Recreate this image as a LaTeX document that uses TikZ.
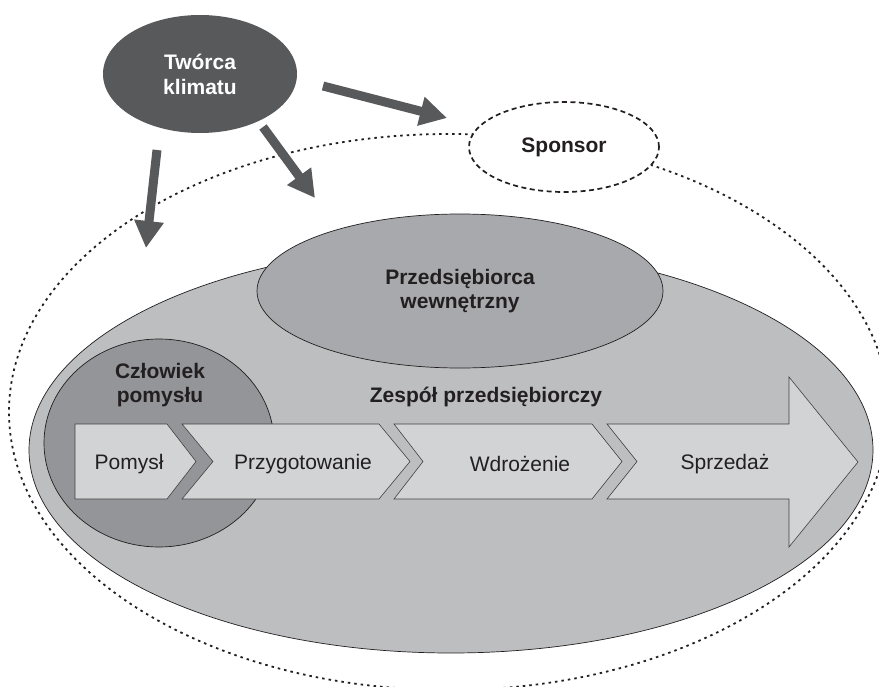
\documentclass[tikz,border=0pt]{standalone}
\usepackage{fontspec}
\setmainfont{Liberation Sans}
\usetikzlibrary{shapes.geometric,arrows.meta}
\definecolor{darkg}{HTML}{58595B}
\definecolor{midg}{HTML}{939598}
\definecolor{przg}{HTML}{A7A9AC}
\definecolor{teamg}{HTML}{BCBEC0}
\definecolor{lightg}{HTML}{D1D3D4}
\definecolor{txt}{HTML}{231F20}
\begin{document}
\begin{tikzpicture}[x=1pt,y=-1pt,
  ell/.style={ellipse, inner sep=0pt, draw=txt, line width=0.7pt},
  boldtxt/.style={font=\fontsize{21}{24}\selectfont\bfseries, text=txt, align=center, inner sep=0pt},
  regtxt/.style={font=\fontsize{21}{24}\selectfont, text=txt, inner sep=0pt},
  phase/.style={fill=lightg, draw=txt!85, line width=0.6pt, line join=miter},
  thickarrow/.style={draw=darkg, line width=9pt, -{Triangle[length=27pt,width=28pt]}},
  dotline/.style={draw=txt, line width=1.8pt, dash pattern=on 2.5pt off 4pt},
  dashline/.style={draw=txt, line width=1.7pt, dash pattern=on 5pt off 3.5pt},
]
\useasboundingbox (0,0) rectangle (879,687);
\fill[white] (0,0) rectangle (879,687);

% outer dotted environment
\node[ellipse, inner sep=0pt, dotline, minimum width=880pt, minimum height=556pt] (env) at (449,412) {};
% sponsor
\node[ellipse, inner sep=0pt, dashline, fill=white, minimum width=190pt, minimum height=90pt,
      font=\fontsize{21}{24}\selectfont\bfseries, text=txt] (sp) at (564,147) {Sponsor};

% team ellipse
\node[ell, fill=teamg, minimum width=844pt, minimum height=406pt] (team) at (451,450) {};
% internal entrepreneur
\node[ell, fill=przg, minimum width=406pt, minimum height=154pt, boldtxt] (pw) at (460,291)
  {Przedsiębiorca\\wewnętrzny};
% idea person
\node[ell, fill=midg, minimum width=230pt, minimum height=208pt] (cz) at (159,443) {};
\node[boldtxt] (czt) at (160,385) {Człowiek\\pomysłu};

\node[boldtxt] (zt) at (486,397) {Zespół przedsiębiorczy};

% phases
\draw[phase] (75,424)--(167,424)--(196,461.5)--(167,499)--(75,499)--cycle;
\draw[phase] (182,424)--(379,424)--(410,461.5)--(379,499)--(182,499)--(213,461.5)--cycle;
\draw[phase] (394,424)--(592,424)--(622,461.5)--(592,499)--(394,499)--(423,461.5)--cycle;
\draw[phase] (607,424)--(789,424)--(789,377)--(858,462)--(789,547)--(789,499)--(607,499)--(637,461.5)--cycle;

\node[regtxt] (p1) at (129,464) {Pomysł};
\node[regtxt] (p2) at (303,464) {Przygotowanie};
\node[regtxt] (p3) at (520,464) {Wdrożenie};
\node[regtxt] (p4) at (725,464) {Sprzedaż};

% climate creator
\node[ellipse, inner sep=0pt, fill=darkg, minimum width=194pt, minimum height=118pt,
      font=\fontsize{21}{25}\selectfont\bfseries, text=white, align=center] (tw) at (200,74)
  {Twórca\\klimatu};

\coordinate (a1s) at (323,86);
\coordinate (a1e) at (447,118);
\coordinate (a2s) at (263,127);
\coordinate (a2e) at (315,198);
\coordinate (a3s) at (157,150);
\coordinate (a3e) at (146,248);
\draw[thickarrow] (a1s) -- (a1e);
\draw[thickarrow] (a2s) -- (a2e);
\draw[thickarrow] (a3s) -- (a3e);
\end{tikzpicture}
\end{document}
